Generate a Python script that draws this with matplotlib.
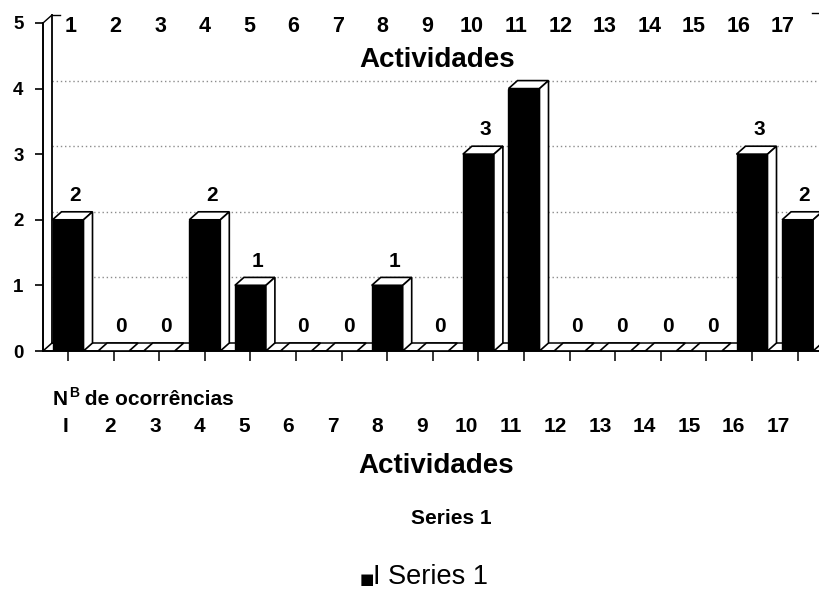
import matplotlib
matplotlib.use('Agg')
import matplotlib.pyplot as plt
from matplotlib.patches import Polygon, Rectangle

plt.rcParams['font.family'] = ['Liberation Sans', 'DejaVu Sans']

# ---- data ----
categories = list(range(1, 18))
values = [2, 0, 0, 2, 1, 0, 0, 1, 0, 3, 4, 0, 0, 0, 0, 3, 2]
value_labels = ['2', '0', '0', '2', '1', '0', '0', '1', '0', '3', '', '0', '0', '0', '0', '3', '2']
top_tick_labels = [str(c) for c in categories]
bottom_tick_labels = ['I'] + [str(c) for c in categories[1:]]
y_ticks = [0, 1, 2, 3, 4, 5]
title_text = 'Actividades'
ylabel_main = 'N'
ylabel_sup = 'B'
ylabel_rest = ' de ocorrências'
series_title = 'Series 1'
legend_text = 'I Series 1'

# ---- layout ----
W, H = 819, 590
fig = plt.figure(figsize=(W / 100, H / 100), dpi=100)
px_unit_x = 45.6
px_unit_y = 65.6
ax = fig.add_axes([43 / W, 1 - 351 / H, (W - 43) / W, (351 - 23) / H])
x0 = 1 + (43 - 68) / px_unit_x
x1 = 1 + (W - 68) / px_unit_x
ax.set_xlim(x0, x1)
ax.set_ylim(0, 5)
dx = 9 / px_unit_x
dy = 8 / px_unit_y
w = 15.5 / px_unit_x

for s in ['top', 'right']:
    ax.spines[s].set_visible(False)
for s in ['left', 'bottom']:
    ax.spines[s].set_linewidth(1.4)
    ax.spines[s].set_color('black')

ax.set_yticks(y_ticks)
ax.set_yticklabels([str(t) for t in y_ticks], fontsize=13.5, fontweight='bold')
ax.tick_params(axis='y', direction='out', length=6, width=1.2, pad=8)
ax.set_xticks(categories)
ax.set_xticklabels([''] * len(categories))
ax.tick_params(axis='x', direction='out', length=7, width=1.1)

# back wall / gridlines
for v in y_ticks[1:-1]:
    ax.plot([x0 + dx, x1], [v + dy, v + dy], color='#8c8c8c', lw=1.0,
            ls=(0, (1, 2)), zorder=0.5)
ax.plot([x0 + dx, x0 + dx], [dy, 5 + dy], color='black', lw=1.3, clip_on=False, zorder=2)
ax.plot([x0, x0 + dx], [5, 5 + dy], color='black', lw=1.0, clip_on=False, zorder=2)
ax.plot([x0 + dx, x0 + dx + 8 / px_unit_x], [5 + dy, 5 + dy], color='black', lw=1.0,
        clip_on=False, zorder=2)
ax.plot([x1 - 7 / px_unit_x, x1], [5 + 1.3 * dy, 5 + 1.3 * dy], color='black', lw=1.0,
        clip_on=False, zorder=2)

# floor
ax.plot([x0 + dx, x1], [dy, dy], color='black', lw=1.1, zorder=1)
ax.plot([x0, x0 + dx], [0, dy], color='black', lw=1.1, zorder=1)

# bars
for c, v, lab in zip(categories, values, value_labels):
    top = Polygon([(c - w, v), (c + w, v), (c + w + dx, v + dy), (c - w + dx, v + dy)],
                  closed=True, facecolor='white', edgecolor='black', lw=1.2, zorder=3)
    ax.add_patch(top)
    if v > 0:
        ax.add_patch(Rectangle((c - w, 0), 2 * w, v, facecolor='black',
                               edgecolor='black', lw=1.0, zorder=3))
        side = Polygon([(c + w, 0), (c + w + dx, dy), (c + w + dx, v + dy), (c + w, v)],
                       closed=True, facecolor='white', edgecolor='black', lw=1.2, zorder=3)
        ax.add_patch(side)
    if lab:
        ax.text(c + 0.15, v + 0.37, lab, ha='center', va='center',
                fontsize=15, fontweight='bold', zorder=4)

# top category labels and title
for k, lab in enumerate(top_tick_labels):
    fig.text((71 + 44.5 * k) / W, 1 - 26 / H, lab, ha='center', va='center',
             fontsize=15.5, fontweight='bold')
fig.text(437 / W, 1 - 67 / H, title_text, ha='center', va='baseline',
         fontsize=20, fontweight='bold')

# y label under the chart
t_n = fig.text(53 / W, 1 - 405 / H, ylabel_main, ha='left', va='baseline',
               fontsize=15, fontweight='bold')
t_b = ax.annotate(ylabel_sup, xy=(1, 1 - 397 / H), xycoords=(t_n, 'figure fraction'),
                  xytext=(0.5, 0), textcoords='offset points', ha='left', va='baseline',
                  fontsize=10, fontweight='bold', annotation_clip=False)
ax.annotate(ylabel_rest, xy=(1, 1 - 405 / H), xycoords=(t_b, 'figure fraction'),
            ha='left', va='baseline', fontsize=15, fontweight='bold', annotation_clip=False)

# bottom category labels and title
for k, lab in enumerate(bottom_tick_labels):
    fig.text((66 + 44.5 * k) / W, 1 - 427 / H, lab, ha='center', va='center',
             fontsize=15, fontweight='bold')
fig.text(436 / W, 1 - 473 / H, title_text, ha='center', va='baseline',
         fontsize=20, fontweight='bold')

fig.text(451 / W, 1 - 519 / H, series_title, ha='center', va='center',
         fontsize=15, fontweight='bold')
fig.text(360 / W, 1 - 584 / H, '\u25a0', ha='left', va='baseline', fontsize=11,
         family=['DejaVu Sans'])
fig.text(373 / W, 1 - 584 / H, legend_text, ha='left', va='baseline', fontsize=19.5)

fig.savefig('out.png', dpi=100)
